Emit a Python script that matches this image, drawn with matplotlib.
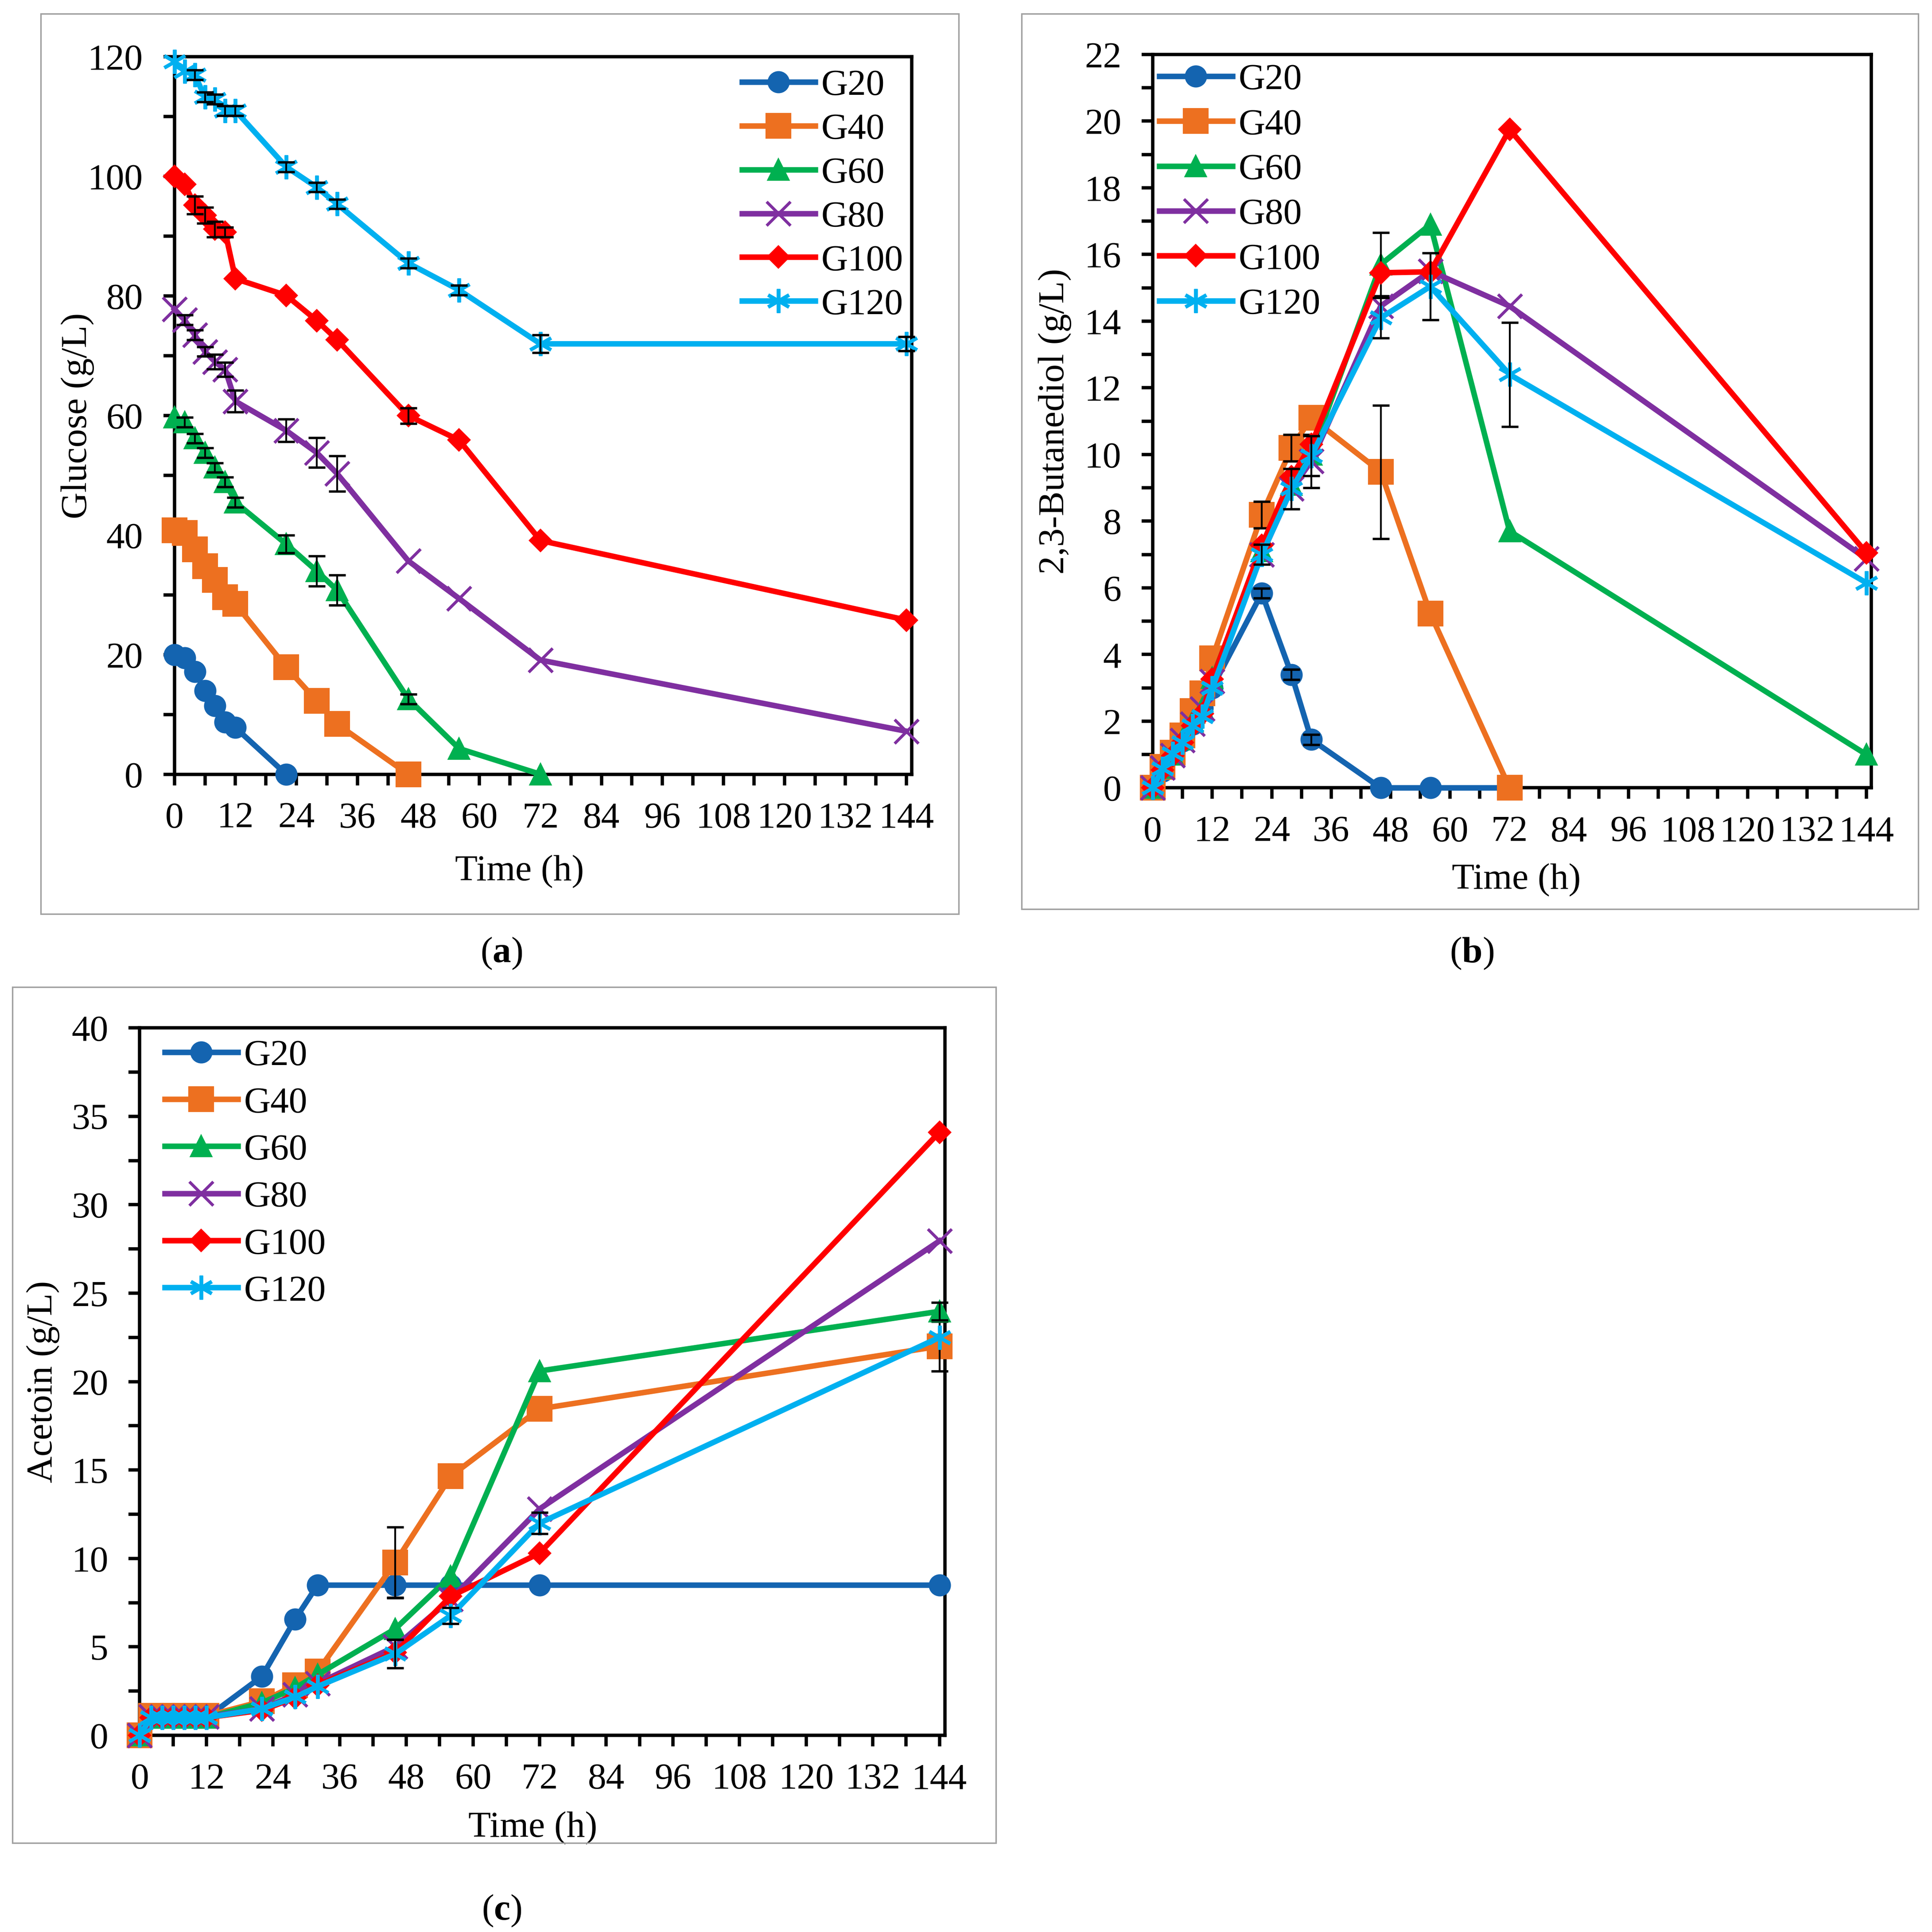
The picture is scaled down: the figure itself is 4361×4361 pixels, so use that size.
import matplotlib
matplotlib.use("Agg")
import matplotlib.pyplot as plt
import numpy as np
from matplotlib.patches import Rectangle
from matplotlib.ticker import MultipleLocator

plt.rcParams['font.family'] = ['Liberation Serif', 'DejaVu Serif']
plt.rcParams['mathtext.fontset'] = 'custom'
plt.rcParams['mathtext.rm'] = 'Liberation Serif'
plt.rcParams['mathtext.bf'] = 'Liberation Serif:bold'

# ---------------- data ----------------
time_h = [0, 2, 4, 6, 8, 10, 12, 22, 28, 32, 46, 56, 72, 144]
series_names = ["G20", "G40", "G60", "G80", "G100", "G120"]

# (a) Glucose (g/L)
glc_G20 = [20.0, 19.5, 17.2, 14.0, 11.5, 8.7, 7.8, 0.0]
glc_G40 = [40.8, 40.4, 37.6, 34.8, 32.5, 29.6, 28.5, 17.9, 12.3, 8.4, 0.0]
glc_G60 = [59.7, 58.9, 56.2, 53.8, 51.3, 48.9, 45.5, 38.5, 34.0, 30.8, 12.6, 4.3, 0.0]
glc_G80 = [77.8, 76.0, 73.5, 70.7, 69.0, 67.7, 62.4, 57.5, 53.8, 50.3, 35.7, 29.4, 19.1, 7.2]
glc_G100 = [100.0, 98.7, 95.2, 93.5, 91.2, 90.7, 82.9, 80.1, 75.9, 72.7, 60.0, 55.9, 39.1, 25.8]
glc_G120 = [119.2, 117.6, 117.0, 113.3, 112.9, 111.0, 111.0, 101.6, 98.2, 95.4, 85.5, 81.0, 72.0, 72.0]
glc_err_G20 = [0, 0, 0, 0, 0, 0, 0, 0]
glc_err_G40 = [0, 0, 0, 0, 0, 0, 0, 0, 0, 0, 0]
glc_err_G60 = [0, 0.8, 0.8, 0.8, 0.8, 0.8, 0.8, 1.5, 2.5, 2.5, 0.8, 0, 0]
glc_err_G80 = [0, 0.8, 0.8, 0.8, 1.2, 1.2, 1.8, 1.9, 2.5, 3.0, 0, 0, 0, 0]
glc_err_G100 = [0, 0, 1.5, 1.3, 1.3, 0.8, 0, 0, 0, 0, 1.3, 0, 0, 0]
glc_err_G120 = [0, 0, 0.8, 0.8, 0.8, 0.8, 0.8, 0.8, 0.8, 0.8, 0.8, 0.8, 1.5, 1.2]

# (b) 2,3-Butanediol (g/L)
bdo_G20 = [0.0, 0.5, 1.0, 1.4, 1.9, 2.4, 3.0, 5.84, 3.4, 1.45, 0.0, 0.0, 0.0]
bdo_G40 = [0.0, 0.63, 1.05, 1.57, 2.3, 2.83, 3.88, 8.19, 10.2, 11.1, 9.48, 5.23, 0.0]
bdo_G60 = [0.0, 0.6, 1.0, 1.45, 2.0, 2.4, 3.3, 7.1, 9.1, 10.0, 15.7, 16.9, 7.7, 1.0]
bdo_G80 = [0.0, 0.6, 0.98, 1.43, 1.92, 2.37, 3.2, 7.0, 8.97, 9.8, 14.45, 15.5, 14.45, 6.87]
bdo_G100 = [0.0, 0.54, 0.96, 1.36, 1.87, 2.23, 3.26, 7.27, 9.33, 10.3, 15.45, 15.48, 19.75, 7.05]
bdo_G120 = [0.0, 0.58, 1.03, 1.36, 1.87, 2.14, 2.99, 7.0, 8.97, 9.96, 14.1, 15.04, 12.4, 6.15]
bdo_err_G20 = [0, 0, 0, 0, 0, 0, 0, 0.15, 0.15, 0.15, 0, 0, 0]
bdo_err_G40 = [0, 0, 0, 0, 0, 0, 0, 0.4, 0.4, 0, 2.0, 0, 0]
bdo_err_G60 = [0, 0, 0, 0, 0, 0, 0, 0, 0, 0, 0.95, 0, 0, 0]
bdo_err_G80 = [0, 0, 0, 0, 0, 0, 0, 0, 0, 0.8, 0, 0, 0, 0]
bdo_err_G100 = [0, 0, 0, 0, 0, 0, 0, 0, 0, 0, 0, 0, 0, 0]
bdo_err_G120 = [0, 0, 0, 0, 0, 0, 0, 0.3, 0.6, 0.6, 0.6, 1.0, 1.56, 0]

# (c) Acetoin (g/L)
act_G20 = [0.0, 1.0, 1.0, 1.0, 1.0, 1.0, 1.0, 3.33, 6.57, 8.49, 8.49, 8.49, 8.49, 8.49]
act_G40 = [0.0, 1.1, 1.1, 1.1, 1.1, 1.1, 1.1, 1.92, 2.84, 3.6, 9.77, 14.65, 18.46, 22.0]
act_G60 = [0.0, 1.0, 1.0, 1.0, 1.0, 1.0, 1.0, 1.84, 2.68, 3.43, 6.02, 9.0, 20.6, 23.97]
act_G80 = [0.0, 1.05, 1.05, 1.05, 1.05, 1.05, 1.05, 1.5, 2.3, 2.93, 5.02, 7.7, 12.8, 27.95]
act_G100 = [0.0, 1.0, 1.0, 1.0, 1.0, 1.0, 1.0, 1.42, 2.13, 2.84, 4.68, 7.86, 10.3, 34.1]
act_G120 = [0.0, 1.0, 1.0, 1.0, 1.0, 1.0, 1.0, 1.5, 2.17, 2.76, 4.6, 6.77, 12.0, 22.5]
act_err_G20 = [0, 0, 0, 0, 0, 0, 0, 0, 0, 0, 0.7, 0, 0, 0]
act_err_G40 = [0, 0, 0, 0, 0, 0, 0, 0, 0, 0, 2.0, 0, 0, 1.4]
act_err_G60 = [0, 0, 0, 0, 0, 0, 0, 0, 0, 0, 0, 0, 0, 0.5]
act_err_G80 = [0, 0, 0, 0, 0, 0, 0, 0, 0, 0, 0.4, 0, 0, 0]
act_err_G100 = [0, 0, 0, 0, 0, 0, 0, 0, 0, 0, 0, 0, 0, 0]
act_err_G120 = [0, 0, 0, 0, 0, 0, 0, 0, 0, 0, 0.8, 0.45, 0.6, 0]

# ---------------- styles ----------------
colors = ["#1464B0", "#ED7020", "#00B050", "#7F2FA0", "#FF0000", "#00B0F0"]
markers = ["o", "s", "^", "x", "D", (6, 2, 0)]
msizes = [11.0, 13.0, 11.0, 13.0, 8.0, 13.0]
mews = [1.0, 1.0, 1.0, 1.6, 1.0, 1.9]
LW = 3.0
FS = 20
LFS = 20

fig = plt.figure(figsize=(4361 / 300, 4361 / 300), dpi=300)
D = 1562.0

def fr(x0, x1, y0, y1):
    return [x0 / D, 1 - y1 / D, (x1 - x0) / D, (y1 - y0) / D]

# gray panel frames
for (x0, x1, y0, y1) in [(33, 775, 11, 739), (826, 1551, 11, 735), (10, 805, 798, 1490)]:
    fig.patches.append(Rectangle((x0 / D, 1 - y1 / D), (x1 - x0) / D, (y1 - y0) / D,
                                 transform=fig.transFigure, fill=False,
                                 edgecolor="#A0A0A0", linewidth=0.8))

def panel(rect, data, errs, ymax, ymaj, ymin, ylabel, leg_xy, leg_sp, ylab_x, xlab_xy):
    ax = fig.add_axes(rect)
    for i, name in enumerate(series_names):
        y = data[i]
        t = time_h[:len(y)]
        ax.plot(t, y, color=colors[i], lw=LW, marker=markers[i], ms=msizes[i],
                mec=colors[i], mfc=colors[i], mew=mews[i], label=name,
                clip_on=False, zorder=3 + i)
        e = np.array(errs[i], dtype=float)
        m = e > 0
        if m.any():
            ax.errorbar(np.array(t)[m], np.array(y)[m], yerr=e[m], fmt="none",
                        ecolor="black", elinewidth=1.0, capsize=4.6, capthick=1.3,
                        clip_on=False, zorder=3 + i)
    ax.set_xlim(0, 145)
    ax.set_ylim(0, ymax)
    ax.xaxis.set_major_locator(MultipleLocator(12))
    ax.xaxis.set_minor_locator(MultipleLocator(6))
    ax.yaxis.set_major_locator(MultipleLocator(ymaj))
    ax.yaxis.set_minor_locator(MultipleLocator(ymin))
    ax.tick_params(which="both", direction="out", length=6, width=1.8)
    ax.tick_params(axis="x", which="major", labelsize=FS, pad=9)
    ax.tick_params(axis="y", which="major", labelsize=FS, pad=11)
    for s in ax.spines.values():
        s.set_linewidth(1.8)
    ax.set_xlabel("Time (h)", fontsize=FS)
    ax.set_ylabel(ylabel, fontsize=FS)
    ax.xaxis.set_label_coords(xlab_xy[0], xlab_xy[1])
    ax.yaxis.set_label_coords(ylab_x, 0.5)
    ax.xaxis.label.set_va("center")
    ax.yaxis.label.set_va("center")
    ax.legend(loc="upper left", bbox_to_anchor=leg_xy, frameon=False, fontsize=LFS,
              borderpad=0, borderaxespad=0, handlelength=1.98, handletextpad=0.17,
              labelspacing=leg_sp)
    return ax

panel(fr(141, 737, 46, 626),
      [glc_G20, glc_G40, glc_G60, glc_G80, glc_G100, glc_G120],
      [glc_err_G20, glc_err_G40, glc_err_G60, glc_err_G80, glc_err_G100, glc_err_G120],
      120, 20, 10, "Glucose (g/L)", (0.770, 0.983), 0.27, -0.131, (0.468, -0.136))

panel(fr(932, 1513, 44, 637),
      [bdo_G20, bdo_G40, bdo_G60, bdo_G80, bdo_G100, bdo_G120],
      [bdo_err_G20, bdo_err_G40, bdo_err_G60, bdo_err_G80, bdo_err_G100, bdo_err_G120],
      22, 2, 1, "2,3-Butanediol (g/L)", (0.009, 0.988), 0.30, -0.136, (0.506, -0.126))

panel(fr(113, 764, 831, 1403),
      [act_G20, act_G40, act_G60, act_G80, act_G100, act_G120],
      [act_err_G20, act_err_G40, act_err_G60, act_err_G80, act_err_G100, act_err_G120],
      40, 5, 2.5, "Acetoin (g/L)", (0.031, 0.984), 0.36, -0.12, (0.488, -0.131))

fig.text(405.5 / D, 1 - 771 / D, r"($\mathbf{a}$)", fontsize=FS, ha="center", va="center")
fig.text(1190 / D, 1 - 771 / D, r"($\mathbf{b}$)", fontsize=FS, ha="center", va="center")
fig.text(405.5 / D, 1 - 1545 / D, r"($\mathbf{c}$)", fontsize=FS, ha="center", va="center")

fig.savefig("out.png", dpi=300)
